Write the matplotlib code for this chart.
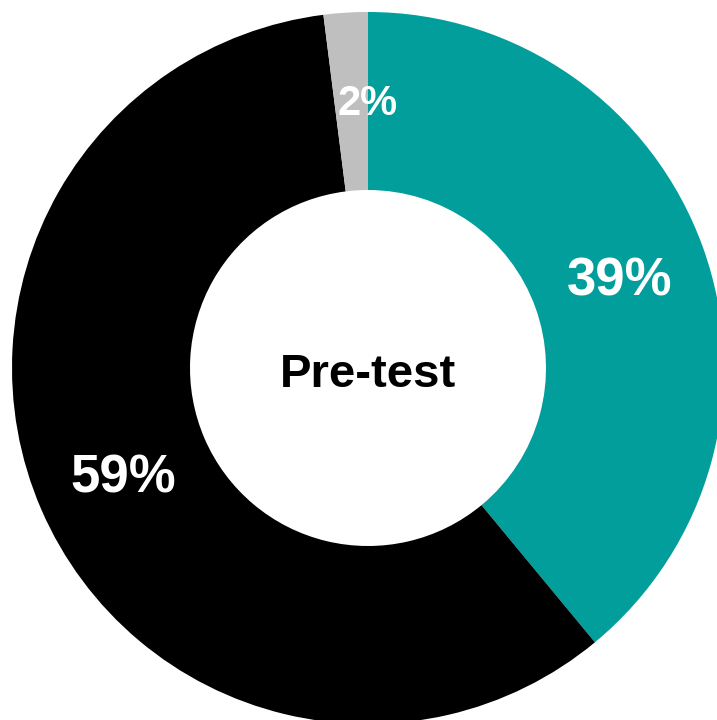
import matplotlib
matplotlib.use("Agg")
import matplotlib.pyplot as plt
import numpy as np

categories = ["Correct", "Incorrect", "No answer"]
values = [39, 59, 2]
labels = ["39%", "59%", "2%"]
colors = ["#019E9B", "#000000", "#BFBFBF"]
center_title = "Pre-test"

plt.rcParams['font.family'] = ['Liberation Sans', 'DejaVu Sans']

fig = plt.figure(figsize=(7.17, 7.2), dpi=100)
ax = fig.add_axes([0, 0, 1, 1])
ax.set_axis_off()

wedges, _ = ax.pie(values, colors=colors, startangle=90, counterclock=False,
                   radius=1.0, wedgeprops=dict(width=0.5, linewidth=0))

# label positions along the ring midline
cum = np.cumsum([0] + values[:-1])
sizes = [38, 38, 30]
for i, (v, lab) in enumerate(zip(values, labels)):
    mid = 90 - (cum[i] + v / 2) * 3.6
    r = 0.75
    x = r * np.cos(np.radians(mid))
    y = r * np.sin(np.radians(mid)) - 4 / 356
    if v < 5:
        x = 0.0
        y += 2 / 356
    ax.text(x, y, lab, ha='center', va='center', color='white',
            fontsize=sizes[i], fontweight='bold')

ax.text(0, -0.02, center_title, ha='center', va='center', color='black',
        fontsize=34, fontweight='bold')

ax.set_aspect('auto')
ax.set_xlim(-368 / 356, (717 - 368) / 356)
ax.set_ylim(-(720 - 368) / 356, 368 / 356)

fig.savefig("out.png", dpi=100)
